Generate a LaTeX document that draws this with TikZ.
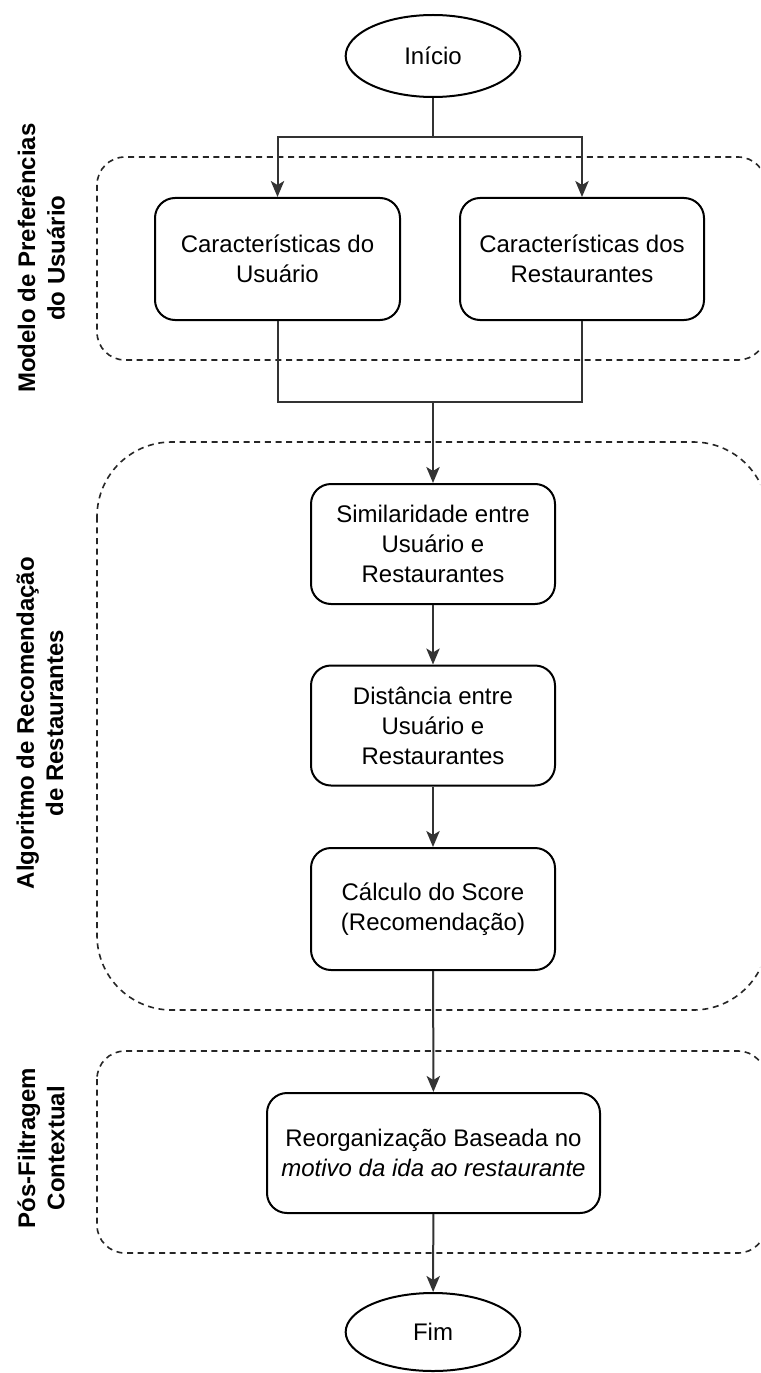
\documentclass[tikz,border=0pt]{standalone}
\usepackage{fontspec}
\setmainfont{Liberation Sans}
\usetikzlibrary{arrows.meta,shapes.geometric}
\tikzset{
  px/.style={x=0.75pt,y=-0.75pt},
  proc/.style={draw=black,line width=1.5pt,rounded corners=15pt,align=center,
    font=\fontsize{18}{22.5}\selectfont,inner sep=2pt},
  term/.style={draw=black,line width=1.5pt,ellipse,inner sep=0pt,
    font=\fontsize{18}{22.5}\selectfont},
  grp/.style={draw=black!85,line width=1.2pt,dash pattern=on 4.5pt off 3.5pt},
  glabel/.style={rotate=90,align=center,font=\fontsize{18}{22}\selectfont\bfseries},
  conn/.style={draw=black!80,line width=1.5pt},
  arr/.style={conn,-{Stealth[length=12pt,width=10pt,inset=3pt]}}
}
\begin{document}
\begin{tikzpicture}[px]
\useasboundingbox[clip] (0,0) rectangle (760,1373);
\fill[white] (0,0) rectangle (760,1373);
% groups
\draw[grp,rounded corners=21pt] (97,157) rectangle (766,360);
\draw[grp,rounded corners=56pt] (97,442) rectangle (768,1010);
\draw[grp,rounded corners=21pt] (97,1051) rectangle (766,1253);
% group labels
\node[glabel] (l1) at (41,258) {Modelo de Preferências\\do Usuário};
\node[glabel] (l2) at (40,723) {Algoritmo de Recomendação\\de Restaurantes};
\node[glabel] (l3) at (41,1148) {Pós-Filtragem\\Contextual};
% nodes
\node[term,minimum width=131pt,minimum height=61.5pt] (inicio) at (433,56) {Início};
\node[proc,minimum width=183.75pt,minimum height=91.5pt] (ul) at (277.5,259) {Características do\\Usuário};
\node[proc,minimum width=183pt,minimum height=91.5pt] (ur) at (582,259) {Características dos\\Restaurantes};
\node[proc,minimum width=183pt,minimum height=90pt] (sim) at (433,544) {Similaridade entre\\Usuário e\\Restaurantes};
\node[proc,minimum width=183pt,minimum height=90pt] (dist) at (433,725.5) {Distância entre\\Usuário e\\Restaurantes};
\node[proc,minimum width=183pt,minimum height=91.5pt] (calc) at (433,909) {Cálculo do Score\\(Recomendação)};
\node[proc,minimum width=249.75pt,minimum height=90pt] (reorg) at (433.5,1153) {Reorganização Baseada no\\\textit{motivo da ida ao restaurante}};
\node[term,minimum width=131pt,minimum height=58.5pt] (fim) at (433,1332) {Fim};
% connectors
\coordinate (split) at (433,137);
\coordinate (merge) at (433,402);
\draw[conn] (inicio.south) -- (split);
\draw[arr] (split) -| (ul.north);
\draw[arr] (split) -| (ur.north);
\draw[conn] (ul.south) |- (merge);
\draw[conn] (ur.south) |- (merge);
\draw[arr] (merge) -- (sim.north);
\draw[arr] (sim) -- (dist);
\draw[arr] (dist) -- (calc);
\draw[arr] (calc) -- (reorg);
\draw[arr] (reorg) -- (fim);
\end{tikzpicture}
\end{document}
